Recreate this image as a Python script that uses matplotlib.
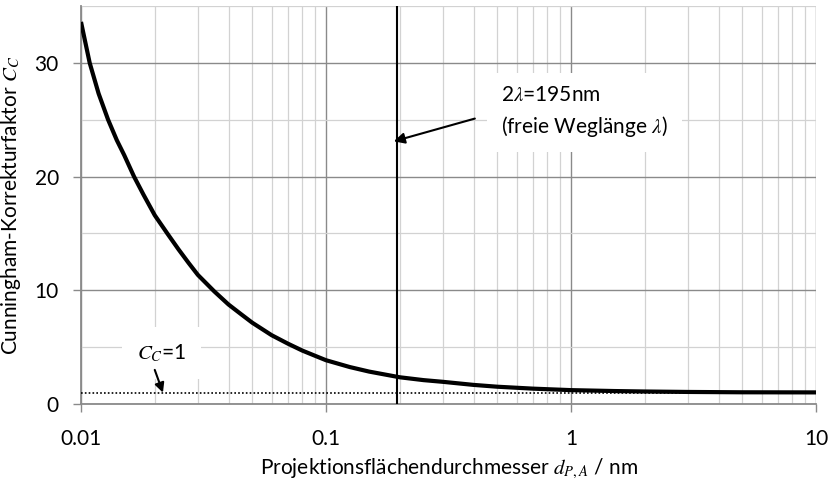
import matplotlib
matplotlib.use("Agg")
import matplotlib.pyplot as plt
from matplotlib.ticker import LogLocator, MultipleLocator, FixedLocator, NullFormatter

plt.rcParams['font.family'] = ['Lato', 'DejaVu Sans']
plt.rcParams['mathtext.fontset'] = 'stix'

# Cunningham slip correction vs. projected-area diameter
d_pa = [0.01, 0.01085, 0.0118, 0.0129, 0.014, 0.015, 0.01646, 0.018, 0.02, 0.0225,
        0.025, 0.0275, 0.03, 0.035, 0.04, 0.045, 0.05, 0.06, 0.07, 0.08, 0.09,
        0.1, 0.125, 0.15, 0.2, 0.25, 0.3, 0.4, 0.5, 0.7, 1,
        1.5, 2, 3, 5, 10]
c_c = [33.6, 30.0, 27.3, 25.0, 23.2, 21.9, 20.0, 18.4, 16.6, 15.0,
       13.6, 12.4, 11.35, 9.9, 8.75, 7.9, 7.15, 6.05, 5.3, 4.7, 4.25,
       3.85, 3.25, 2.85, 2.35, 2.1, 1.95, 1.68, 1.52, 1.35, 1.22,
       1.14, 1.1, 1.06, 1.03, 1.02]

two_lambda = 0.195      # 2*lambda, mean free path marker
c_limit = 1.0           # continuum limit C_C = 1
x_ticks = [0.01, 0.1, 1, 10]
x_tick_labels = ['0.01', '0.1', '1', '10']
y_ticks = [0, 10, 20, 30]

fs = 15

fig = plt.figure(figsize=(8.32, 4.82), dpi=100)
ax = fig.add_axes([81/832, 1 - 404/482, (816 - 81)/832, (404 - 6)/482])

ax.set_xscale('log')
ax.set_xlim(0.01, 10)
ax.set_ylim(0, 35)

ax.xaxis.set_major_locator(FixedLocator(x_ticks))
ax.set_xticklabels(x_tick_labels)
ax.xaxis.set_minor_locator(LogLocator(base=10, subs=range(2, 10)))
ax.xaxis.set_minor_formatter(NullFormatter())
ax.yaxis.set_major_locator(FixedLocator(y_ticks))
ax.yaxis.set_minor_locator(MultipleLocator(5))

ax.grid(which='major', color='#8a8a8a', lw=1.0, zorder=0)
ax.grid(which='minor', color='#d2d2d2', lw=0.9, zorder=0)
ax.set_axisbelow(True)

for side in ['top', 'right']:
    ax.spines[side].set_visible(False)
for side in ['left', 'bottom']:
    ax.spines[side].set_color('#8a8a8a')
    ax.spines[side].set_linewidth(1.3)

ax.tick_params(which='major', direction='out', length=6, width=1.0, color='#8a8a8a',
               labelsize=fs, colors='#8a8a8a', labelcolor='black')
ax.tick_params(which='minor', length=0)
ax.tick_params(axis='x', which='major', pad=12)
ax.tick_params(axis='y', which='major', pad=10)

ax.plot(d_pa, c_c, color='black', lw=3, solid_capstyle='butt',
        solid_joinstyle='round', zorder=4)
ax.axhline(c_limit, color='black', lw=1.2, ls=(0, (1, 1.3)), zorder=3)
ax.axvline(two_lambda, color='black', lw=1.5, zorder=3)

ax.set_ylabel('Cunningham-Korrekturfaktor $C_C$', fontsize=fs, labelpad=8)
ax.set_xlabel('Projektionsflächendurchmesser $d_{P,A}$ / nm', fontsize=fs, labelpad=6)

# label for the mean free path line
ax.text(0.52, 25.7, '2$\\lambda$=195nm\n(freie Weglänge $\\lambda$)', fontsize=fs,
        ha='left', va='center', linespacing=1.45, zorder=5,
        bbox=dict(fc='white', ec='none', pad=10))
ax.annotate('', xy=(0.189, 23.1), xytext=(0.405, 25.1),
            arrowprops=dict(arrowstyle='-|>', color='black', lw=1.5,
                            mutation_scale=16, shrinkA=0, shrinkB=0), zorder=6)

# label for C_C = 1
ax.text(0.0169, 4.5, '$C_C$=1', fontsize=fs, ha='left', va='center', zorder=5,
        bbox=dict(fc='white', ec='none', pad=11))
ax.annotate('', xy=(0.0216, 1.0), xytext=(0.0200, 3.0),
            arrowprops=dict(arrowstyle='-|>', color='black', lw=1.5,
                            mutation_scale=14, shrinkA=0, shrinkB=0), zorder=6)

fig.savefig('out.png', dpi=100)
